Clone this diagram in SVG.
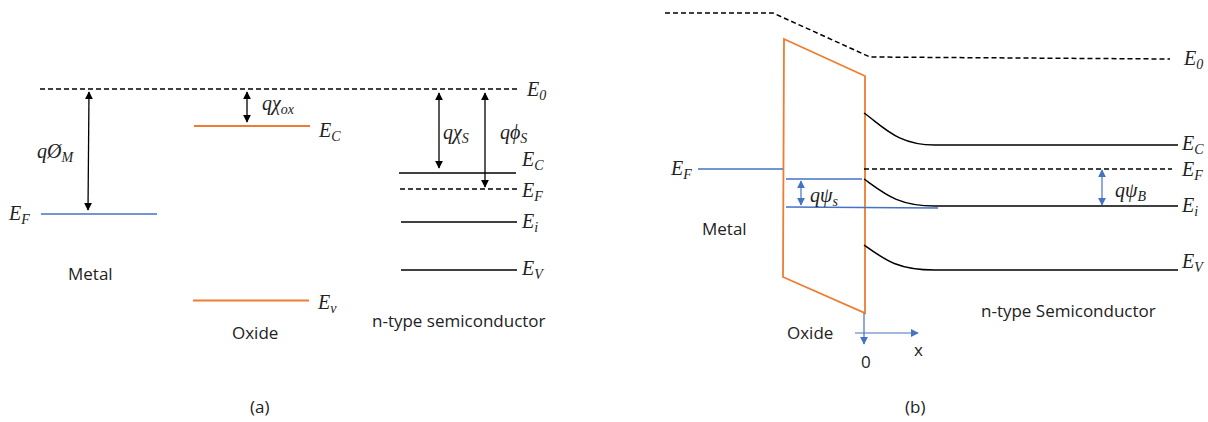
<svg xmlns="http://www.w3.org/2000/svg" width="1208" height="422" viewBox="0 0 1208 422">
<style>
.m{font-family:"Liberation Serif",serif;font-style:italic;font-size:20px;fill:#222}
.s{font-family:"Liberation Serif",serif;font-style:italic;font-size:14px;fill:#222}
.t{font-family:"Open Sans","Liberation Sans",sans-serif;font-size:17px;fill:#222}
.k{stroke:#000;stroke-width:1.5;fill:none}
.d{stroke:#000;stroke-width:1.5;fill:none;stroke-dasharray:5 3}
.o{stroke:#ED7D31;stroke-width:1.8;fill:none}
.b{stroke:#4472C4;stroke-width:1.5;fill:none}
.a{stroke:#000;stroke-width:1.3;fill:none;marker-start:url(#ah);marker-end:url(#ah)}
.ab{stroke:#4472C4;stroke-width:1.2;fill:none;marker-start:url(#bh);marker-end:url(#bh)}
</style>
<defs>
<marker id="ah" viewBox="0 0 10 10" refX="9" refY="5" markerWidth="8" markerHeight="8" markerUnits="userSpaceOnUse" orient="auto-start-reverse"><path d="M0,0 L10,5 L0,10 z" fill="#000"/></marker>
<marker id="bh" viewBox="0 0 10 10" refX="9" refY="5" markerWidth="8" markerHeight="8" markerUnits="userSpaceOnUse" orient="auto-start-reverse"><path d="M0,0 L10,5 L0,10 z" fill="#4472C4"/></marker>
</defs>
<rect width="1208" height="422" fill="#fff"/>

<!-- Panel (a) -->
<g id="a-vacuum">
<line class="d" x1="40" y1="89" x2="518" y2="89"/>
<text class="m" x="527" y="96">E<tspan class="s" dy="4">0</tspan></text>
</g>
<g id="a-metal">
<line class="b" x1="41" y1="214" x2="157" y2="214"/>
<text class="m" x="9" y="220">E<tspan class="s" dy="4">F</tspan></text>
<text class="t" x="68" y="280">Metal</text>
</g>
<g id="a-oxide">
<line class="o" x1="194" y1="126" x2="310" y2="126"/>
<text class="m" x="319" y="137">E<tspan class="s" dy="4">C</tspan></text>
<line class="o" x1="193" y1="300.5" x2="309" y2="300.5"/>
<text class="m" x="318" y="309">E<tspan class="s" dy="4">v</tspan></text>
<text class="t" x="232" y="339">Oxide</text>
</g>
<g id="a-semiconductor">
<line class="k" x1="399" y1="173" x2="516" y2="173"/>
<line class="d" x1="400" y1="189" x2="517" y2="189"/>
<line class="k" x1="401" y1="222" x2="517" y2="222"/>
<line class="k" x1="401" y1="270" x2="517" y2="270"/>
<text class="m" x="522" y="166">E<tspan class="s" dy="4">C</tspan></text>
<text class="m" x="522" y="197">E<tspan class="s" dy="4">F</tspan></text>
<text class="m" x="522" y="228">E<tspan class="s" dy="4">i</tspan></text>
<text class="m" x="522" y="275">E<tspan class="s" dy="4">V</tspan></text>
<text class="t" x="372" y="327">n-type semiconductor</text>
</g>
<g id="a-connectors">
<line class="a" x1="89" y1="92" x2="88" y2="210"/>
<line class="a" x1="247" y1="92" x2="247" y2="122"/>
<line class="a" x1="439" y1="93" x2="439" y2="168"/>
<line class="a" x1="485" y1="93" x2="485" y2="187"/>
</g>
<g id="a-labels">
<text class="m" x="37" y="158">qØ<tspan class="s" dy="4">M</tspan></text>
<text class="m" x="262" y="110">qχ<tspan class="s" dy="4">ox</tspan></text>
<text class="m" x="443" y="139">qχ<tspan class="s" dy="4">S</tspan></text>
<text class="m" x="500" y="139">qϕ<tspan class="s" dy="4">S</tspan></text>
<text class="t" x="250" y="413">(a)</text>
</g>

<!-- Panel (b) -->
<g id="b-vacuum">
<path class="d" d="M665,13 L773,13 L870,57 L1170,59"/>
<text class="m" x="1184" y="65">E<tspan class="s" dy="4">0</tspan></text>
</g>
<g id="b-oxide">
<polygon class="o" points="784,39 865,76 865,313 783,277"/>
<text class="t" x="787" y="339">Oxide</text>
</g>
<g id="b-metal">
<line class="b" x1="698" y1="169" x2="783" y2="169"/>
<text class="m" x="671" y="175">E<tspan class="s" dy="4">F</tspan></text>
<text class="t" x="702" y="235">Metal</text>
</g>
<g id="b-semiconductor">
<path class="k" d="M864,113 C885,128 898,145 935,145 L1178,145"/>
<line class="d" x1="864" y1="169" x2="1172" y2="169" stroke-width="1.2"/>
<path class="k" d="M864,179 C885,194 898,206 935,206 L1178,206"/>
<path class="k" d="M864,245 C885,260 898,270 935,270 L1178,270"/>
<text class="m" x="1182" y="150">E<tspan class="s" dy="4">C</tspan></text>
<text class="m" x="1182" y="176">E<tspan class="s" dy="4">F</tspan></text>
<text class="m" x="1182" y="212">E<tspan class="s" dy="4">i</tspan></text>
<text class="m" x="1182" y="268">E<tspan class="s" dy="4">V</tspan></text>
<text class="t" x="981" y="317">n-type Semiconductor</text>
</g>
<g id="b-connectors">
<line class="b" x1="786" y1="179" x2="862" y2="179" stroke-width="1.3"/>
<line class="b" x1="786" y1="207" x2="938" y2="208" stroke-width="1.3"/>
<line class="ab" x1="801" y1="181" x2="801" y2="205"/>
<line class="ab" x1="1102" y1="170" x2="1102" y2="205"/>
<line x1="864" y1="313" x2="864" y2="344" stroke="#4472C4" stroke-width="1.2" marker-end="url(#bh)"/>
<line x1="855" y1="333" x2="918" y2="333" stroke="#4472C4" stroke-width="1.2" marker-end="url(#bh)"/>
</g>
<g id="b-labels">
<text class="m" x="810" y="202">qψ<tspan class="s" dy="4">s</tspan></text>
<text class="m" x="1115" y="197">qψ<tspan class="s" dy="4">B</tspan></text>
<text class="t" x="861" y="368">0</text>
<text class="t" x="914" y="356">x</text>
<text class="t" x="905" y="413">(b)</text>
</g>
</svg>
